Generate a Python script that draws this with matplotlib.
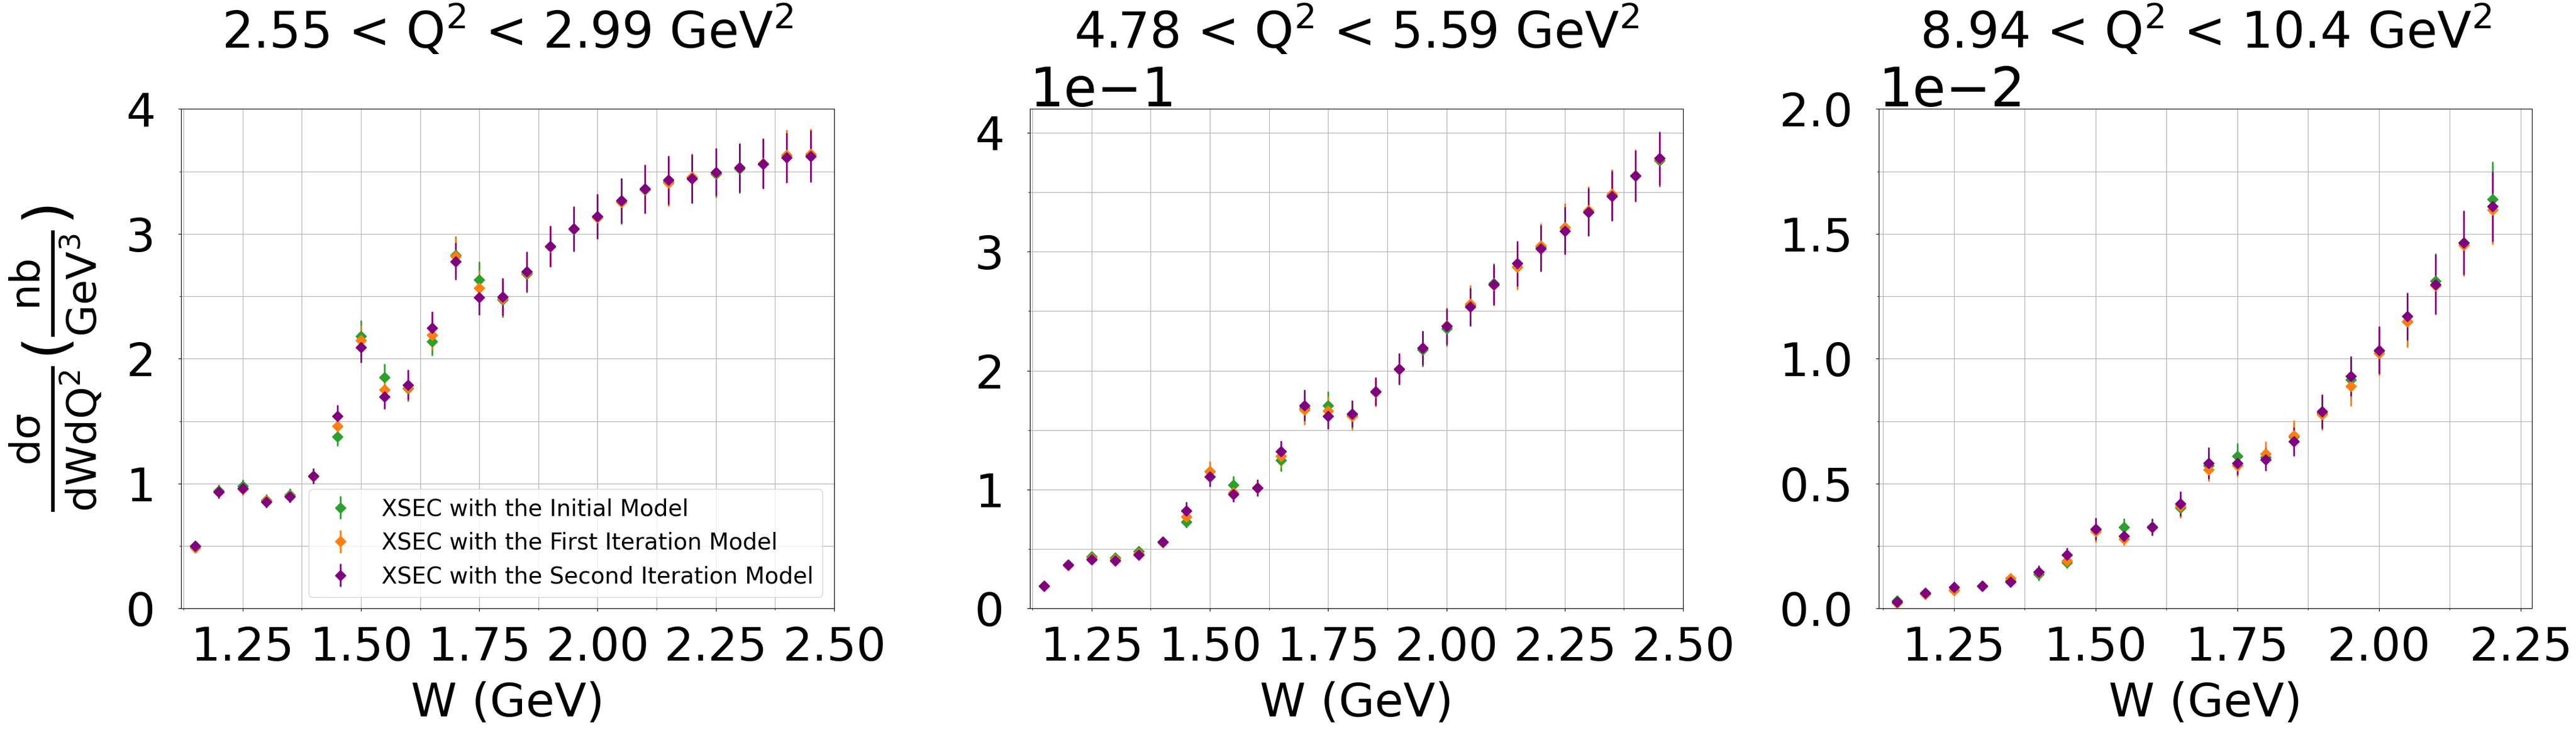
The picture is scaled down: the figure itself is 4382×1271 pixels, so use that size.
import matplotlib
matplotlib.use("Agg")
import matplotlib.pyplot as plt
from matplotlib.ticker import MultipleLocator

plt.rcParams['font.family'] = ['DejaVu Sans']
plt.rcParams['mathtext.default'] = 'regular'

# ---------------- data ----------------
titles = [r"2.55 < Q$^2$ < 2.99 GeV$^2$",
          r"4.78 < Q$^2$ < 5.59 GeV$^2$",
          r"8.94 < Q$^2$ < 10.4 GeV$^2$"]
labels = ["XSEC with the Initial Model",
          "XSEC with the First Iteration Model",
          "XSEC with the Second Iteration Model"]
colors = ["#2ca02c", "#ff7f0e", "purple"]

# Bin 1: 2.55 < Q2 < 2.99
W1 = [1.15, 1.20, 1.25, 1.30, 1.35, 1.40, 1.45, 1.50, 1.55, 1.60, 1.65, 1.70, 1.75, 1.80,
      1.85, 1.90, 1.95, 2.00, 2.05, 2.10, 2.15, 2.20, 2.25, 2.30, 2.35, 2.40, 2.45]
init1 = [0.50, 0.94, 0.98, 0.865, 0.91, 1.06, 1.376, 2.18, 1.85, 1.76, 2.14, 2.83, 2.63, 2.47,
         2.68, 2.90, 3.035, 3.13, 3.26, 3.35, 3.42, 3.45, 3.48, 3.52, 3.56, 3.63, 3.635]
first1 = [0.485, 0.935, 0.955, 0.86, 0.90, 1.06, 1.46, 2.146, 1.75, 1.765, 2.19, 2.82, 2.565, 2.48,
          2.69, 2.895, 3.04, 3.13, 3.255, 3.355, 3.41, 3.455, 3.49, 3.53, 3.565, 3.63, 3.64]
second1 = [0.50, 0.935, 0.962, 0.854, 0.897, 1.06, 1.54, 2.09, 1.695, 1.79, 2.246, 2.78, 2.49, 2.495,
           2.70, 2.90, 3.04, 3.14, 3.265, 3.36, 3.43, 3.44, 3.495, 3.53, 3.56, 3.61, 3.62]
init1_err = [0.03, 0.05, 0.05, 0.05, 0.05, 0.06, 0.076, 0.125, 0.11, 0.10, 0.115, 0.15, 0.15, 0.14,
             0.15, 0.16, 0.165, 0.175, 0.18, 0.185, 0.19, 0.19, 0.19, 0.195, 0.195, 0.20, 0.20]
first1_err = [0.03, 0.05, 0.05, 0.05, 0.05, 0.06, 0.08, 0.12, 0.10, 0.10, 0.12, 0.15, 0.14, 0.14,
              0.15, 0.16, 0.17, 0.175, 0.18, 0.19, 0.19, 0.19, 0.19, 0.195, 0.20, 0.20, 0.20]
second1_err = [0.03, 0.054, 0.05, 0.05, 0.05, 0.06, 0.09, 0.12, 0.10, 0.12, 0.13, 0.15, 0.14, 0.15,
               0.16, 0.165, 0.18, 0.18, 0.18, 0.195, 0.195, 0.195, 0.19, 0.195, 0.20, 0.20, 0.205]

# Bin 2: 4.78 < Q2 < 5.59
W2 = [1.15, 1.20, 1.25, 1.30, 1.35, 1.40, 1.45, 1.50, 1.55, 1.60, 1.65, 1.70, 1.75, 1.80,
      1.85, 1.90, 1.95, 2.00, 2.05, 2.10, 2.15, 2.20, 2.25, 2.30, 2.35, 2.40, 2.45]
init2 = [0.0187, 0.0369, 0.0434, 0.0425, 0.0482, 0.0562, 0.0729, 0.1154, 0.1041, 0.1015, 0.1245,
         0.1687, 0.1707, 0.1625, 0.182, 0.201, 0.2175, 0.2354, 0.255, 0.2734, 0.2873, 0.304,
         0.3205, 0.333, 0.3474, 0.3636, 0.3766]
first2 = [0.0187, 0.0363, 0.042, 0.041, 0.046, 0.0556, 0.0774, 0.1154, 0.0973, 0.1015, 0.1279,
          0.1673, 0.1662, 0.1617, 0.1818, 0.2014, 0.219, 0.238, 0.2561, 0.2717, 0.287, 0.3049,
          0.3205, 0.3347, 0.3483, 0.3639, 0.378]
second2 = [0.0187, 0.0369, 0.0411, 0.040, 0.0451, 0.0562, 0.0822, 0.1106, 0.0959, 0.1015, 0.1319,
           0.1707, 0.1617, 0.1636, 0.1824, 0.2014, 0.219, 0.2371, 0.2535, 0.2723, 0.2901, 0.3026,
           0.3176, 0.3332, 0.3466, 0.3636, 0.3786]
init2_err = [0.003, 0.003, 0.003, 0.003, 0.0035, 0.004, 0.005, 0.008, 0.0074, 0.007, 0.009,
             0.013, 0.0117, 0.011, 0.012, 0.013, 0.0145, 0.015, 0.016, 0.017, 0.018, 0.019,
             0.02, 0.02, 0.021, 0.021, 0.022]
first2_err = [0.003, 0.003, 0.003, 0.003, 0.0035, 0.004, 0.006, 0.0085, 0.007, 0.007, 0.009,
              0.013, 0.012, 0.012, 0.012, 0.013, 0.0145, 0.015, 0.016, 0.017, 0.019, 0.019,
              0.02, 0.02, 0.021, 0.022, 0.022]
second2_err = [0.003, 0.003, 0.003, 0.003, 0.0035, 0.004, 0.0075, 0.008, 0.0065, 0.007, 0.009,
               0.013, 0.011, 0.0115, 0.012, 0.013, 0.0145, 0.015, 0.016, 0.017, 0.019, 0.0195,
               0.02, 0.02, 0.021, 0.0215, 0.0225]

# Bin 3: 8.94 < Q2 < 10.4
W3 = [1.15, 1.20, 1.25, 1.30, 1.35, 1.40, 1.45, 1.50, 1.55, 1.60, 1.65, 1.70, 1.75, 1.80,
      1.85, 1.90, 1.95, 2.00, 2.05, 2.10, 2.15, 2.20]
init3 = [0.00031, 0.00061, 0.00074, 0.00091, 0.00112, 0.00136, 0.00185, 0.00316, 0.00326,
         0.00328, 0.00403, 0.00572, 0.00609, 0.00605, 0.00688, 0.00782, 0.00916, 0.01031,
         0.0115, 0.01312, 0.01464, 0.01639]
first3 = [0.00022, 0.00058, 0.00073, 0.00089, 0.0012, 0.00143, 0.00192, 0.00309, 0.00278,
          0.00326, 0.00409, 0.00555, 0.00572, 0.00619, 0.00693, 0.00778, 0.0089, 0.01022,
          0.01149, 0.01292, 0.01454, 0.01596]
second3 = [0.00026, 0.00061, 0.00086, 0.00091, 0.00107, 0.00147, 0.00214, 0.00319, 0.00291,
           0.00326, 0.00419, 0.00582, 0.00582, 0.00597, 0.00668, 0.00789, 0.0093, 0.01034,
           0.01169, 0.01297, 0.01464, 0.01609]
init3_err = [0.00015, 0.00015, 0.0002, 0.0002, 0.0002, 0.00025, 0.00025, 0.00045, 0.00034,
             0.00033, 0.0004, 0.0005, 0.00052, 0.00045, 0.00055, 0.00065, 0.0008, 0.0009,
             0.001, 0.0011, 0.0013, 0.0015]
first3_err = [0.00015, 0.00015, 0.0002, 0.0002, 0.0002, 0.00025, 0.00028, 0.00045, 0.00025,
              0.00033, 0.00045, 0.00045, 0.00045, 0.0005, 0.0006, 0.00065, 0.0008, 0.0009,
              0.00104, 0.0011, 0.00125, 0.00138]
second3_err = [0.00015, 0.00015, 0.0002, 0.0002, 0.0002, 0.00025, 0.00028, 0.00045, 0.00025,
               0.00033, 0.0005, 0.00063, 0.00047, 0.00045, 0.00058, 0.00068, 0.0008, 0.00095,
               0.00096, 0.0012, 0.00127, 0.00139]

panels = [
    (W1, [init1, first1, second1], [init1_err, first1_err, second1_err]),
    (W2, [init2, first2, second2], [init2_err, first2_err, second2_err]),
    (W3, [init3, first3, second3], [init3_err, first3_err, second3_err]),
]
xlims = [(1.12, 2.50), (1.12, 2.50), (1.118, 2.27)]
ylims = [(0, 4.0), (0, 0.42), (0, 0.020)]
ymajor = [1.0, 0.1, 0.005]

# ---------------- figure ----------------
fig, axes = plt.subplots(1, 3, figsize=(43.82, 12.71), dpi=100)
fig.subplots_adjust(left=0.0703, right=0.9829, bottom=0.1855, top=0.8542, wspace=0.30)

for i, ax in enumerate(axes):
    W, ys, errs = panels[i]
    for y, e, c, lab in zip(ys, errs, colors, labels):
        ax.errorbar(W, y, yerr=e, fmt='D', color=c, markersize=9, elinewidth=2, label=lab)
    ax.set_xlim(*xlims[i])
    ax.set_ylim(*ylims[i])
    ax.xaxis.set_major_locator(MultipleLocator(0.25))
    ax.xaxis.set_minor_locator(MultipleLocator(0.125))
    ax.yaxis.set_major_locator(MultipleLocator(ymajor[i]))
    ax.yaxis.set_minor_locator(MultipleLocator(ymajor[i] / 2))
    ax.grid(True, which='both')
    ax.ticklabel_format(axis='y', style='sci', scilimits=(0, 0))
    ax.tick_params(axis='x', which='both', labelsize=57, pad=17)
    ax.tick_params(axis='y', which='both', labelsize=57, pad=28)
    ax.yaxis.get_offset_text().set_fontsize(66)
    ax.set_xlabel("W (GeV)", fontsize=57, labelpad=14)
    ax.set_title(titles[i], fontsize=61, y=1.122, pad=0)

axes[0].set_ylabel(r"$\frac{d\sigma}{dWdQ^2}(\frac{nb}{GeV^3})$", fontsize=72)
axes[0].yaxis.set_label_coords(-0.12, 0.5)
axes[0].legend(loc='lower right', fontsize=28)

fig.savefig("out.png", dpi=100)
